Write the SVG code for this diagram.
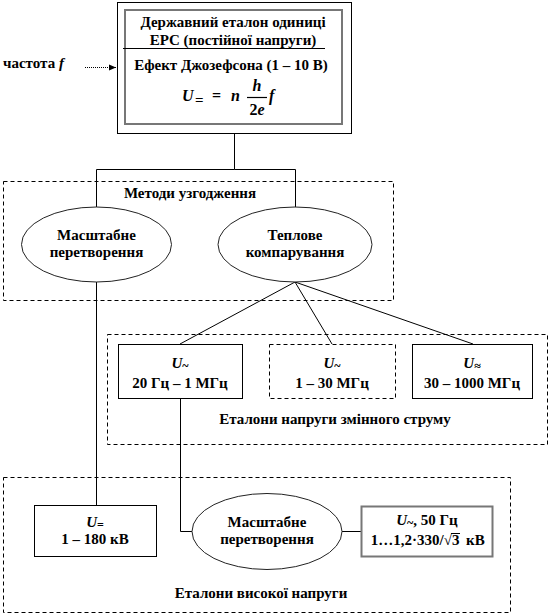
<svg xmlns="http://www.w3.org/2000/svg" width="551" height="616" viewBox="0 0 551 616">
<style>
text{font-family:"Liberation Serif","Times New Roman","DejaVu Serif",serif;font-weight:bold;font-size:15px;fill:#000;text-anchor:middle}
.it{font-style:italic}
.lt{text-anchor:start}
.rt{text-anchor:end}
.fm{font-size:16px}
.box{fill:#fff;stroke:#000;stroke-width:1}
.gbox{fill:#fff;stroke:#777;stroke-width:2}
.grp{fill:none;stroke:#000;stroke-width:1;stroke-dasharray:4 3}
.dbox{fill:#fff;stroke:#000;stroke-width:1;stroke-dasharray:4 3}
.ell{fill:#fff;stroke:#222;stroke-width:1}
.con{fill:none;stroke:#000;stroke-width:1}
</style>
<defs>
<marker id="arr" markerWidth="8" markerHeight="8" refX="7" refY="4" orient="auto" markerUnits="userSpaceOnUse">
<path d="M0,1 L7,4 L0,7 Z" fill="#000"/>
</marker>
</defs>
<rect width="551" height="616" fill="#fff"/>

<g id="group-methods"><rect class="grp" x="3.5" y="181.5" width="390" height="119"/>
<text x="190" y="198">Методи узгодження</text></g>
<g id="group-ac"><rect class="grp" x="107.5" y="334.5" width="440" height="110"/>
<text x="335" y="424">Еталони напруги змінного струму</text></g>
<g id="group-hv"><rect class="grp" x="3.5" y="477.5" width="507" height="135"/>
<text x="261" y="598">Еталони високої напруги</text></g>

<g id="connectors">
<line class="con" x1="85" y1="67.5" x2="116" y2="67.5" stroke-dasharray="1 1" marker-end="url(#arr)"/>
<polyline class="con" points="234.5,133 234.5,169.5 96.5,169.5 96.5,207"/>
<polyline class="con" points="234.5,169.5 295.5,169.5 295.5,207" stroke="#666"/>
<line class="con" x1="96.5" y1="282" x2="96.5" y2="505"/>
<line class="con" x1="295" y1="282" x2="180" y2="344"/>
<line class="con" x1="295" y1="282" x2="332" y2="344"/>
<line class="con" x1="295" y1="282" x2="473" y2="344"/>
<polyline class="con" points="180.5,398 180.5,531.5 192,531.5"/>
<line class="con" x1="342" y1="531.5" x2="361" y2="531.5"/>
</g>

<g id="freq"><text class="lt" x="3" y="68">частота <tspan class="it">f</tspan></text></g>

<g id="node-standard">
<rect class="box" x="117.5" y="2.5" width="234" height="131"/>
<rect class="gbox" x="125" y="10" width="217" height="114"/>
<text x="233" y="27">Державний еталон одиниці</text>
<text x="233" y="45">ЕРС (постійної напруги)</text>
<line x1="123" y1="48.5" x2="325" y2="48.5" stroke="#000" stroke-width="1"/>
<text x="231" y="70">Ефект Джозефсона (1 – 10 В)</text>
<text class="lt it fm" x="182" y="101">U</text>
<text class="lt" x="195" y="105" font-size="13">=</text>
<text class="lt fm" x="212" y="101">=</text>
<text class="lt it fm" x="231" y="101">n</text>
<text class="it fm" x="257" y="91">h</text>
<line x1="247" y1="97.5" x2="267" y2="97.5" stroke="#000" stroke-width="1.2"/>
<text class="it fm" x="257" y="115"><tspan font-style="normal">2</tspan>e</text>
<text class="lt it fm" x="269" y="101">f</text>
</g>

<g id="node-scale1"><ellipse class="ell" cx="96.5" cy="244.5" rx="75" ry="37.5"/>
<text x="96.5" y="240">Масштабне</text><text x="96.5" y="257">перетворення</text></g>
<g id="node-thermal"><ellipse class="ell" cx="295" cy="244.5" rx="77" ry="37.5"/>
<text x="295" y="240">Теплове</text><text x="295" y="257">компарування</text></g>

<g id="node-ac1"><rect class="box" x="118.5" y="344.5" width="124" height="54"/>
<text class="it" x="180" y="368">U<tspan font-style="normal" font-size="12" dy="2">~</tspan></text>
<text x="180" y="388">20 Гц – 1 МГц</text></g>
<g id="node-ac2"><rect class="dbox" x="269.5" y="344.5" width="126" height="54"/>
<text class="it" x="332" y="368">U<tspan font-style="normal" font-size="12" dy="2">~</tspan></text>
<text x="332" y="388">1 – 30 МГц</text></g>
<g id="node-ac3"><rect class="box" x="412.5" y="344.5" width="120" height="54"/>
<text class="it" x="472" y="368">U<tspan font-style="normal" font-size="12" dy="2">≈</tspan></text>
<text x="472" y="388">30 – 1000 МГц</text></g>

<g id="node-hvdc"><rect class="box" x="34.5" y="505.5" width="122" height="51"/>
<text class="it" x="95" y="527">U<tspan font-style="normal" font-size="12" dy="2">=</tspan></text>
<text x="95" y="544">1 – 180 кВ</text></g>
<g id="node-scale2"><ellipse class="ell" cx="267" cy="531.5" rx="75" ry="38"/>
<text x="267" y="527">Масштабне</text><text x="267" y="544">перетворення</text></g>
<g id="node-hvac"><rect class="gbox" x="361.5" y="506.5" width="131" height="50" stroke-width="1.5"/>
<text x="427" y="525"><tspan class="it">U</tspan><tspan font-size="12" dy="2">~</tspan><tspan dy="-2">, 50 Гц</tspan></text>
<text class="rt" x="452" y="545">1…1,2·330/√</text>
<text class="lt" x="452" y="545">3</text>
<line x1="451" y1="533.5" x2="460" y2="533.5" stroke="#000" stroke-width="1"/>
<text class="lt" x="466" y="545">кВ</text>
</g>
</svg>
